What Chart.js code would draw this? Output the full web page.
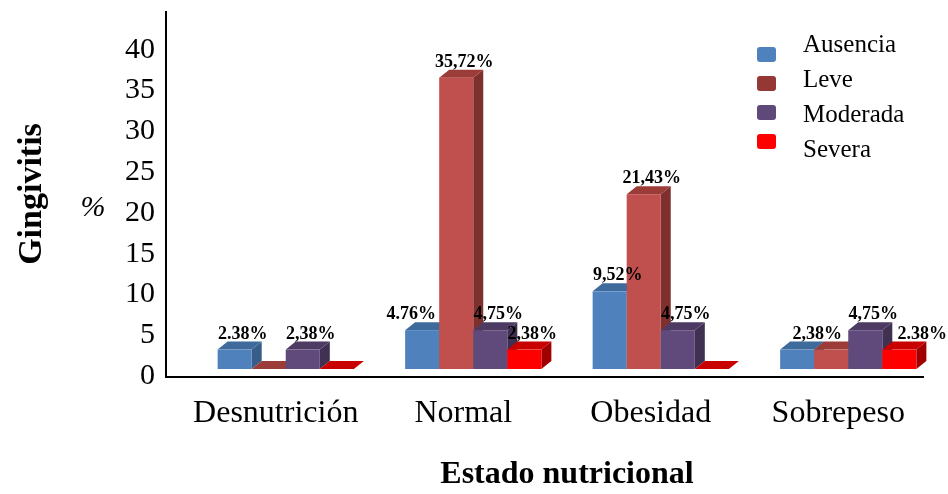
<!DOCTYPE html>
<html>
<head>
<meta charset="utf-8">
<script src="https://cdn.jsdelivr.net/npm/chart.js@4/dist/chart.umd.min.js"></script>
<style>
  html, body { margin: 0; padding: 0; background: #ffffff; }
  #wrap { width: 948px; height: 494px; position: relative; }
</style>
</head>
<body>
<div id="wrap"><canvas id="chart"></canvas></div>
<script>
// Nutritional status groups
const categories = ['Desnutrición', 'Normal', 'Obesidad', 'Sobrepeso'];

// Gingivitis severity, % of patients per group
const ausencia = [2.38, 4.76, 9.52, 2.38];
const leve     = [0, 35.72, 21.43, 2.38];
const moderada = [2.38, 4.75, 4.75, 4.75];
const severa   = [0, 2.38, 0, 2.38];

// Value labels as printed above the columns (null = no label)
const ausenciaLabels = ['2.38%', '4.76%', '9,52%', '2,38%'];
const leveLabels     = [null, '35,72%', '21,43%', null];
const moderadaLabels = ['2,38%', '4,75%', '4,75%', '4,75%'];
const severaLabels   = [null, '2,38%', null, '2.38%'];

const seriesNames = ['Ausencia', 'Leve', 'Moderada', 'Severa'];

const SERIF = "'Liberation Serif', 'Times New Roman', serif";

// Face colours for the pseudo-3D columns
const palette = {
  Ausencia: { front: '#4F81BD', top: '#3F6A9C', side: '#385D8A', key: '#4F81BD' },
  Leve:     { front: '#C0504D', top: '#9B3C39', side: '#7E302E', key: '#953735' },
  Moderada: { front: '#604A7B', top: '#4D3B64', side: '#403152', key: '#5F497A' },
  Severa:   { front: '#FF0000', top: '#C80000', side: '#A00000', key: '#FF0000' }
};

// Projection of the column depth
const LIFT = 7;   // front faces sit slightly above the floor edge
const DX = 10;
const DY = 8;

// Small hand adjustments of some value labels (series|category -> px)
const labelNudge = { 'Ausencia|1': -19, 'Ausencia|3': 12, 'Severa|3': 15 };

const labelSets = [ausenciaLabels, leveLabels, moderadaLabels, severaLabels];

const bars3d = {
  id: 'bars3d',
  beforeDatasetDraw() { return false; },
  afterDatasetsDraw(chart) {
    const ctx = chart.ctx;
    const sets = chart.data.datasets;
    ctx.save();
    for (let c = 0; c < categories.length; c++) {
      sets.forEach((ds, i) => {
        const el = chart.getDatasetMeta(i).data[c];
        const col = palette[ds.label];
        const l = el.x - el.width / 2, r = el.x + el.width / 2;
        const t = el.y - LIFT, b = el.base - LIFT;
        // side face
        ctx.fillStyle = col.side;
        ctx.beginPath();
        ctx.moveTo(r, t); ctx.lineTo(r + DX, t - DY); ctx.lineTo(r + DX, b - DY); ctx.lineTo(r, b);
        ctx.closePath(); ctx.fill();
        // top face
        ctx.fillStyle = col.top;
        ctx.beginPath();
        ctx.moveTo(l, t); ctx.lineTo(l + DX, t - DY); ctx.lineTo(r + DX, t - DY); ctx.lineTo(r, t);
        ctx.closePath(); ctx.fill();
        // front face
        if (b - t > 0) {
          ctx.fillStyle = col.front;
          ctx.fillRect(l, t, r - l, b - t);
        }
      });
    }
    // value labels
    ctx.fillStyle = '#000';
    ctx.font = 'bold 18px ' + SERIF;
    ctx.textAlign = 'center';
    ctx.textBaseline = 'alphabetic';
    sets.forEach((ds, i) => {
      const texts = labelSets[i];
      chart.getDatasetMeta(i).data.forEach((el, c) => {
        if (!texts[c]) return;
        const nudge = labelNudge[ds.label + '|' + c] || 0;
        ctx.fillText(texts[c], el.x + DX * 0.8 + nudge, el.y - LIFT - 11);
      });
    });
    ctx.restore();
  }
};

const decorations = {
  id: 'decorations',
  afterDraw(chart) {
    const ctx = chart.ctx;
    const a = chart.chartArea;
    ctx.save();
    // axis lines
    const ax = a.left - 26;
    const ay = a.bottom + 1;
    ctx.strokeStyle = '#000';
    ctx.lineWidth = 2;
    ctx.beginPath();
    ctx.moveTo(ax, a.top + 2); ctx.lineTo(ax, ay); ctx.lineTo(a.right - 18, ay);
    ctx.stroke();

    // y axis title and unit
    ctx.fillStyle = '#000';
    ctx.save();
    ctx.translate(32, 194);
    ctx.rotate(-Math.PI / 2);
    ctx.font = 'bold 34px ' + SERIF;
    ctx.textAlign = 'center';
    ctx.textBaseline = 'middle';
    ctx.fillText('Gingivitis', 0, 0);
    ctx.restore();
    ctx.font = 'italic 30px ' + SERIF;
    ctx.textAlign = 'center';
    ctx.textBaseline = 'middle';
    ctx.fillText('%', 93, 208);

    // legend
    ctx.font = '25px ' + SERIF;
    ctx.textAlign = 'left';
    ctx.textBaseline = 'alphabetic';
    chart.data.datasets.forEach((ds, i) => {
      ctx.fillStyle = palette[ds.label].key;
      ctx.beginPath();
      ctx.roundRect(757, 47 + 29 * i, 19, 15, 3);
      ctx.fill();
      ctx.fillStyle = '#000';
      ctx.fillText(ds.label, 803, 52 + 35 * i);
    });
    ctx.restore();
  }
};

const seriesValues = [ausencia, leve, moderada, severa];

new Chart(document.getElementById('chart'), {
  type: 'bar',
  data: {
    labels: categories,
    datasets: seriesNames.map((name, i) => ({
      label: name,
      data: seriesValues[i],
      backgroundColor: palette[name].front,
      categoryPercentage: 0.7265,
      barPercentage: 1.0
    }))
  },
  options: {
    responsive: true,
    maintainAspectRatio: false,
    animation: false,
    layout: { padding: { left: 0, right: 6, top: 9, bottom: 0 } },
    plugins: { legend: { display: false }, tooltip: { enabled: false } },
    scales: {
      x: {
        grid: { display: false, drawTicks: false },
        border: { display: false },
        ticks: {
          font: { family: SERIF, size: 32 }, color: '#000',
          padding: 18, labelOffset: -10, maxRotation: 0, autoSkip: false
        },
        title: {
          display: true, text: 'Estado nutricional',
          font: { family: SERIF, size: 32, weight: 'bold' }, color: '#000', padding: 0
        },
        afterFit(scale) {
          scale.height = 118;
          scale.paddingLeft = 0;
          scale.paddingRight = 0;
        }
      },
      y: {
        min: 0, max: 45,
        grid: { display: false, drawTicks: false },
        border: { display: false },
        ticks: {
          stepSize: 5, autoSkip: false,
          font: { family: SERIF, size: 30 }, color: '#000', padding: 37,
          callback: (v) => (v > 40 ? '' : v)
        },
        afterFit(scale) {
          scale.width = 192;
          scale.paddingTop = 0;
          scale.paddingBottom = 0;
        }
      }
    }
  },
  plugins: [bars3d, decorations]
});
</script>
</body>
</html>
